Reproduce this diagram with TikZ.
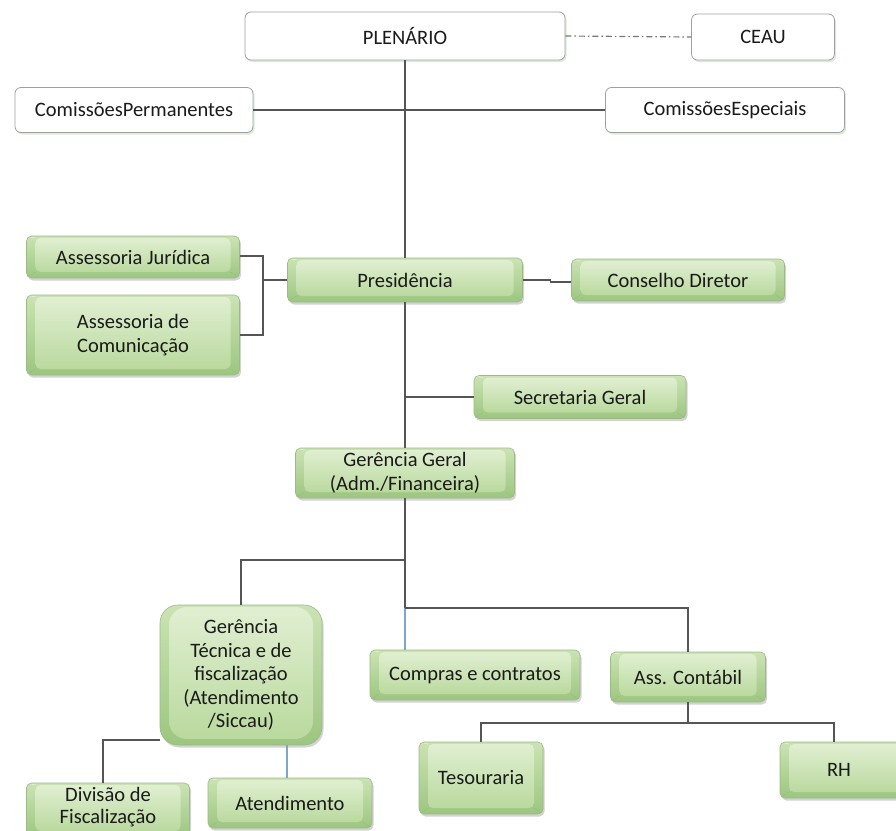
\documentclass[tikz,border=0pt]{standalone}
\usepackage{fontspec}
\setmainfont{Carlito}
\usetikzlibrary{shadows,calc}
\definecolor{gtop}{HTML}{CBE3B3}
\definecolor{gbot}{HTML}{9CC680}
\definecolor{gin1}{HTML}{E0EFD1}
\definecolor{gin2}{HTML}{BAD99E}
\definecolor{gedge}{HTML}{9DB98A}
\definecolor{lnc}{HTML}{555555}
\definecolor{blc}{HTML}{7EA6CC}
\definecolor{dashc}{HTML}{777777}
\definecolor{txt}{HTML}{1A1A1A}
\newcommand{\labfont}{\fontsize{20.5}{23.5}\selectfont}
\tikzset{
  gbox/.style={rounded corners=5pt, draw=gedge, line width=0.6pt,
    top color=gtop, bottom color=gbot, text=txt, align=center, font=\labfont,
    inner sep=2pt,
    drop shadow={shadow xshift=1.5pt, shadow yshift=-2.5pt, opacity=0.35, fill=gray},
    path picture={
      \coordinate (ppsw) at (path picture bounding box.south west);
      \coordinate (ppne) at (path picture bounding box.north east);
      \shade[top color=gin1, bottom color=gin2]
        ([xshift=9pt,yshift=6pt]ppsw) rectangle ([xshift=-9pt,yshift=-2pt]ppne);
      \draw[white, opacity=0.6, line width=0.5pt] (ppsw |- ppne) -- ([xshift=9pt,yshift=-2pt]ppsw |- ppne);
      \draw[gbot!80!black, opacity=0.25, line width=0.5pt] (ppsw) -- ([xshift=9pt,yshift=6pt]ppsw);
      \draw[gbot!80!black, opacity=0.25, line width=0.5pt] (ppsw -| ppne) -- ([xshift=-9pt,yshift=6pt]ppsw -| ppne);
    }},
  wbox/.style={rounded corners=6pt, draw=gray!75, line width=0.8pt, fill=white,
    text=txt, align=center, font=\labfont,
    drop shadow={shadow xshift=1.5pt, shadow yshift=-2pt, opacity=0.5, fill=green!35!gray!45}},
  conn/.style={draw=lnc, line width=1.1pt},
  bconn/.style={draw=blc, line width=1.1pt},
}
\begin{document}
\begin{tikzpicture}[x=1pt,y=-1pt]
\useasboundingbox (0,0) rectangle (896,830);
\clip (0,0) rectangle (896,830);
% white boxes
\node[wbox, minimum width=320pt, minimum height=48pt] (plen) at (405,36) {PLENÁRIO};
\node[wbox, minimum width=143pt, minimum height=46pt] (ceau) at (763,37) {CEAU};
\node[wbox, minimum width=238pt, minimum height=45pt] (cperm) at (134,110) {ComissõesPermanentes};
\node[wbox, minimum width=239pt, minimum height=45pt] (cesp) at (725,110) {ComissõesEspeciais};
% green boxes
\node[gbox, minimum width=213pt, minimum height=42pt] (aj) at (133,257) {Assessoria Jurídica};
\node[gbox, minimum width=213pt, minimum height=80pt] (acom) at (133,335) {Assessoria de\\Comunicação};
\node[gbox, minimum width=235pt, minimum height=44pt] (pres) at (405,280) {Presidência};
\node[gbox, minimum width=213pt, minimum height=42pt] (cons) at (678,280) {Conselho Diretor};
\node[gbox, minimum width=212pt, minimum height=43pt] (sec) at (580,397) {Secretaria Geral};
\node[gbox, minimum width=219pt, minimum height=50pt] (gg) at (405,473) {Gerência Geral\\(Adm./Financeira)};
\node[gbox, rounded corners=18pt, minimum width=162pt, minimum height=140pt] (gt) at (241,675)
  {Gerência\\Técnica e de\\fiscalização\\(Atendimento\\/Siccau)};
\node[gbox, minimum width=210pt, minimum height=50pt] (comp) at (475,675) {Compras e contratos};
\node[gbox, minimum width=155pt, minimum height=50pt] (assc) at (688,677) {Ass. Contábil};
\node[gbox, minimum width=124pt, minimum height=72pt] (tes) at (481,778) {Tesouraria};
\node[gbox, minimum width=132pt, minimum height=56pt, text width=120pt] (rh) at (846,770) {\hspace*{-14pt}RH};
\node[gbox, minimum width=163pt, minimum height=54pt] (div) at (108,810) {};
\node[text=txt, align=center, font=\fontsize{20.5}{21.5}\selectfont, inner sep=0pt] (divt) at (108,807) {Divisão de\\Fiscalização};
\node[gbox, minimum width=164pt, minimum height=50pt] (aten) at (290,803) {Atendimento};
% connectors
\coordinate (jl) at (263,280);
\coordinate (js) at (405,397);
\coordinate (jg) at (405,560);
\coordinate (jc) at (405,608);
\coordinate (ja) at (688,723);
\coordinate (jt) at (103,740);
\draw[conn] (plen.south) -- (pres.north);
\draw[conn] (cperm.east) -- (cesp.west);
\draw[draw=dashc, line width=1.2pt, dash pattern=on 6pt off 3pt on 1.5pt off 3pt] (plen.east) -- (ceau.west);
\draw[conn] (pres.west) -- (jl);
\draw[conn] (aj.east |- 0,256) -| (jl) |- (acom.east |- 0,335);
\draw[conn] (pres.east) -- ++(28,0) |- ([yshift=-2pt]cons.west);
\draw[conn] (pres.south) -- (gg.north);
\draw[conn] (js) -- (sec.west |- js);
\draw[conn] (gg.south) -- (jc);
\draw[conn] (jg) -| (gt.north);
\draw[bconn] (jc) -- (jc |- comp.north);
\draw[conn] (jc) -| (assc.north);
\draw[conn] (assc.south) -- (ja);
\draw[conn] (tes.north) |- (ja) -| (rh.north -| 834,0);
\draw[conn] (gt.west |- jt) -- (jt) -- (jt |- div.north);
\draw[bconn] (aten.north -| 287,0) -- (287,745);
\end{tikzpicture}
\end{document}
